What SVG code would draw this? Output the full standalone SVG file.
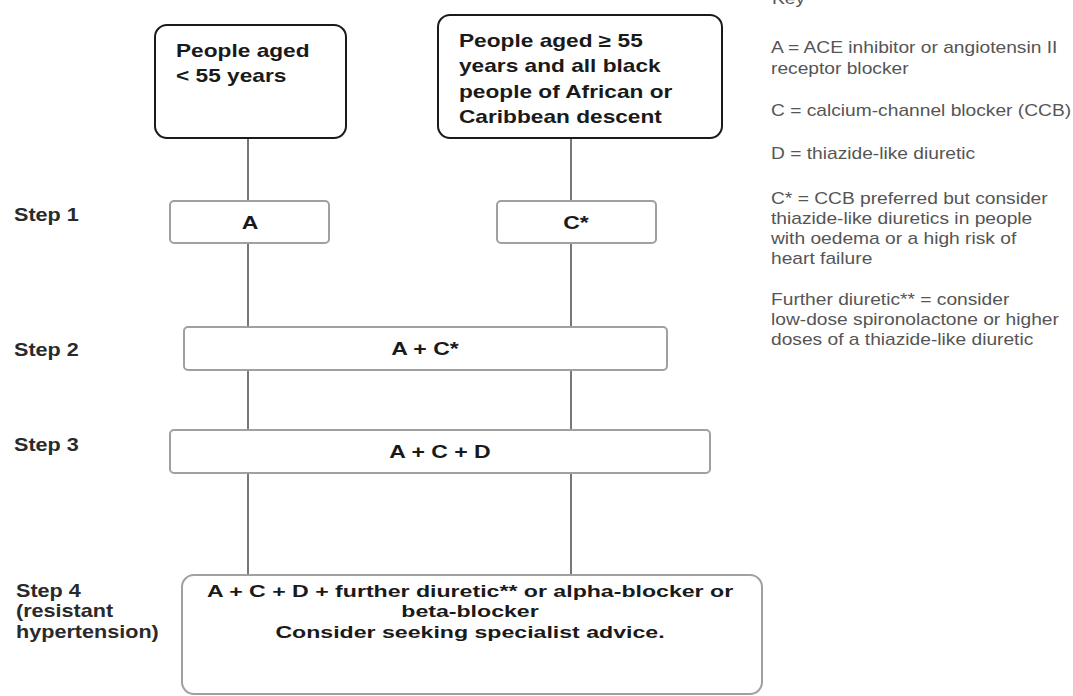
<svg xmlns="http://www.w3.org/2000/svg" width="1073" height="696" viewBox="0 0 1073 696">
<style>
  .start{fill:#fff;stroke:#1a1a1a;stroke-width:2}
  .step{fill:#fff;stroke:#a0a0a0;stroke-width:2}
  .conn{stroke:#4a4a4a;stroke-width:1.5;fill:none}
  .hb{font-family:"Liberation Sans",Arial,sans-serif;font-weight:bold;font-size:18px;fill:#1a1a1a}
  .bx{font-family:"Liberation Sans",Arial,sans-serif;font-weight:bold;font-size:18px;fill:#1a1a1a}
  .lab{font-family:"Liberation Sans",Arial,sans-serif;font-weight:bold;font-size:18px;fill:#2a2a2a}
  .s4{font-family:"Liberation Sans",Arial,sans-serif;font-weight:bold;font-size:17px;fill:#1a1a1a}
  .key{font-family:"Liberation Sans",Arial,sans-serif;font-size:16px;fill:#555}
</style>
<rect width="1073" height="696" fill="#fff"/>
<g id="connectors">
  <line class="conn" x1="248" y1="138" x2="248" y2="201"/>
  <line class="conn" x1="571" y1="138" x2="571" y2="201"/>
  <line class="conn" x1="248" y1="243" x2="248" y2="327"/>
  <line class="conn" x1="571" y1="243" x2="571" y2="327"/>
  <line class="conn" x1="248" y1="370" x2="248" y2="430"/>
  <line class="conn" x1="571" y1="370" x2="571" y2="430"/>
  <line class="conn" x1="248" y1="473" x2="248" y2="575"/>
  <line class="conn" x1="571" y1="473" x2="571" y2="575"/>
</g>
<g id="under55">
  <rect class="start" x="155" y="25" width="191" height="113" rx="12"/>
  <text class="hb" transform="translate(176 57) scale(1.26 1)"><tspan x="0">People aged</tspan><tspan x="0" dy="25">&lt; 55 years</tspan></text>
</g>
<g id="over55">
  <rect class="start" x="438" y="15" width="284" height="123" rx="12"/>
  <text class="hb" transform="translate(459 47) scale(1.26 1)"><tspan x="0">People aged ≥ 55</tspan><tspan x="0" dy="25.3">years and all black</tspan><tspan x="0" dy="25.3">people of African or</tspan><tspan x="0" dy="25.3">Caribbean descent</tspan></text>
</g>
<g id="step1-label"><text class="lab" transform="translate(14 221) scale(1.2 1)">Step 1</text></g>
<g id="step1-A">
  <rect class="step" x="170" y="201" width="159" height="42" rx="4"/>
  <text class="bx" text-anchor="middle" transform="translate(250 229) scale(1.28 1)">A</text>
</g>
<g id="step1-C">
  <rect class="step" x="497" y="201" width="159" height="42" rx="4"/>
  <text class="bx" text-anchor="middle" transform="translate(576 229) scale(1.28 1)">C*</text>
</g>
<g id="step2-label"><text class="lab" transform="translate(14 356) scale(1.2 1)">Step 2</text></g>
<g id="step2">
  <rect class="step" x="184" y="327" width="483" height="43" rx="4"/>
  <text class="bx" text-anchor="middle" transform="translate(425 355) scale(1.28 1)">A + C*</text>
</g>
<g id="step3-label"><text class="lab" transform="translate(14 451) scale(1.2 1)">Step 3</text></g>
<g id="step3">
  <rect class="step" x="170" y="430" width="540" height="43" rx="4"/>
  <text class="bx" text-anchor="middle" transform="translate(440 458) scale(1.28 1)">A + C + D</text>
</g>
<g id="step4-label"><text class="lab" transform="translate(16 597) scale(1.2 1)"><tspan x="0">Step 4</tspan><tspan x="0" dy="20.5">(resistant</tspan><tspan x="0" dy="20.5">hypertension)</tspan></text></g>
<g id="step4">
  <rect class="step" x="182" y="575" width="580" height="119" rx="12"/>
  <text class="s4" text-anchor="middle" transform="translate(470 597) scale(1.36 1)"><tspan x="0">A + C + D + further diuretic** or alpha-blocker or</tspan><tspan x="0" dy="20.5">beta-blocker</tspan><tspan x="0" dy="20.5">Consider seeking specialist advice.</tspan></text>
</g>
<g id="key">
  <text class="key" transform="translate(772 4) scale(1.2 1)">Key</text>
  <text class="key" transform="translate(771 53) scale(1.2 1)"><tspan x="0">A = ACE inhibitor or angiotensin II</tspan><tspan x="0" dy="21">receptor blocker</tspan></text>
  <text class="key" transform="translate(771 116) scale(1.2 1)">C = calcium-channel blocker (CCB)</text>
  <text class="key" transform="translate(771 159) scale(1.2 1)">D = thiazide-like diuretic</text>
  <text class="key" transform="translate(771 204) scale(1.2 1)"><tspan x="0">C* = CCB preferred but consider</tspan><tspan x="0" dy="20">thiazide-like diuretics in people</tspan><tspan x="0" dy="20">with oedema or a high risk of</tspan><tspan x="0" dy="20">heart failure</tspan></text>
  <text class="key" transform="translate(771 305) scale(1.2 1)"><tspan x="0">Further diuretic** = consider</tspan><tspan x="0" dy="20">low-dose spironolactone or higher</tspan><tspan x="0" dy="20">doses of a thiazide-like diuretic</tspan></text>
</g>
</svg>
